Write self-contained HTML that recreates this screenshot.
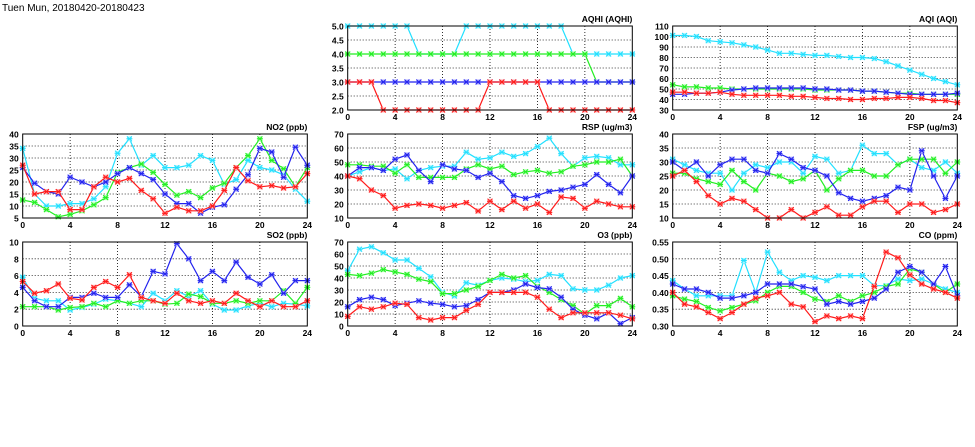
<!DOCTYPE html>
<html><head><meta charset="utf-8"><style>
body{margin:0;background:#fff;}
svg{display:block;font-family:"Liberation Sans",sans-serif;}
</style></head><body>
<svg id="chart" width="975" height="447" viewBox="0 0 975 447">
<text x="2" y="11" font-size="10" fill="#000">Tuen Mun, 20180420-20180423</text>
</svg>
<script>
const hours = [0,1,2,3,4,5,6,7,8,9,10,11,12,13,14,15,16,17,18,19,20,21,22,23,24];
const xTicks = [0,4,8,12,16,20,24];
const seriesColors = ["#22e0ff","#22ee22","#2222ee","#ff1a1a"];
const seriesFill = ["#aaf4ff","#aaffaa","#aaaaff","#ffaaaa"];

const no2Cyan=[34,15,10,10,11,11,13,18,32,38,27,31,26,26,27,31,29,19,21,29,26,25,23,17,12];
const no2Green=[12.5,11.5,8.5,5.5,6.5,8,10.5,13.5,24,26,27.5,24,19,14.5,16,13.5,17.5,19.5,26,31,38,29,25.5,18,26];
const no2Blue=[26,19.5,16,15,22,20,18,20,23.5,26,23.5,21,15,11,11,7,9.5,10.5,17,23,34,32.5,22,34.5,27];
const no2Red=[27,15,16,16,8.5,8.5,18,22,20,21.5,16.5,13,7,9.5,8,8,10,16.5,26,20.5,18,18.5,17.5,18,23.5];
const no2Ticks=[5,10,15,20,25,30,35,40];

const so2Cyan=[5.8,3.3,3,3,1.9,2.2,2.6,3.2,3,2.7,2.3,3.9,3,4.2,3.5,4.2,2.6,1.9,1.9,2.4,2.7,2.3,2.7,2.6,2.4];
const so2Green=[2.3,2.3,2.3,1.9,2.2,2.3,2.7,2.3,3,2.7,3,3,2.6,2.7,3.8,3.5,2.7,2.7,3,2.7,3,3,4.2,2.7,4.6];
const so2Blue=[4.6,3,2.3,2.3,3.4,3.4,3.9,3.4,3.4,4.9,3.5,6.5,6.2,9.8,8,5.4,6.5,5.4,7.6,5.8,5,6.1,3.9,5.4,5.4];
const so2Red=[5.3,3.9,4.2,5,3.3,3.1,4.6,5.3,4.6,6.1,3.4,3,2.7,3.9,3,2.7,3,2.7,3.9,3,2.3,3,2.3,2.3,3];
const so2Ticks=[0,2,4,6,8,10];

const aqhiCyan=[5,5,5,5,5,5,4,4,4,4,5,5,5,5,5,5,5,5,5,4,4,4,4,4,4];
const aqhiGreen=[4,4,4,4,4,4,4,4,4,4,4,4,4,4,4,4,4,4,4,4,4,3,3,3,3];
const aqhiBlue=[3,3,3,3,3,3,3,3,3,3,3,3,3,3,3,3,3,3,3,3,3,3,3,3,3];
const aqhiRed=[3,3,3,2,2,2,2,2,2,2,2,2,3,3,3,3,3,2,2,2,2,2,2,2,2];
const aqhiTicks=[2.0,2.5,3.0,3.5,4.0,4.5,5.0];

const aqiCyan=[101,101,100,96,95,94,92,90,87,84,84,83,82,82,81,80,80,79,76,72,68,64,60,57,54];
const aqiGreen=[54,52,52,51,51,50,50,50,50,50,50,50,49,49,49,49,48,48,47,46,46,45,45,45,45];
const aqiBlue=[45,45,46,46,47,49,50,51,51,51,51,51,50,50,49,49,48,48,47,46,45,45,45,45,46];
const aqiRed=[47,47,46,46,47,45,44,44,44,44,43,43,42,41,41,40,40,41,41,42,42,41,39,39,37];
const aqiTicks=[30,40,50,60,70,80,90,100,110];

const rspCyan=[40,43,46,44,45,38,44,46,47,47,57,52,53,57,54,56,61,67,56,47,53,54,53,48,48];
const rspGreen=[48,48,47,47,42,48,39,39,39,39,45,48,45,47,41,43,44,42,43,47,48,50,50,52,40];
const rspBlue=[40,46,46,44,52,55,44,36,48,45,44,39,42,36,26,24,26,29,30,32,34,41,34,28,40];
const rspRed=[40,38,30,26,17,19,20,19,17,19,21,15,22,16,22,17,20,14,25,24,17,22,20,18,18];
const rspTicks=[10,20,30,40,50,60,70];

const fspCyan=[31,29,27,26,26,20,26,29,28,30,30,26,32,31,26,27,36,33,33,29,31,28,27,30,26];
const fspGreen=[26,26,24,23,22,27,23,20,26,25,23,24,27,20,24,27,27,25,25,29,31,31,31,26,30];
const fspBlue=[30,27,30,25,29,31,31,27,26,33,31,28,27,25,19,17,16,17,18,21,20,34,25,17,25];
const fspRed=[25,27,23,18,15,17,16,13,10,10,13,10,12,14,11,11,14,16,16,12,15,15,12,13,15];
const fspTicks=[10,15,20,25,30,35,40];

const o3Cyan=[46,64,66,61,55,55,48,41,28,25,36,34,38,40,39,37,38,43,42,31,30,30,34,40,42];
const o3Green=[43,42,44,47,45,43,39,37,27,27,30,33,38,43,40,42,33,28,22,17,10,17,17,23,16];
const o3Blue=[16,22,24,22,17,19,21,19,18,16,17,22,28,28,30,35,32,31,24,14,9,6,11,2,7];
const o3Red=[8,16,14,16,19,18,7,5,7,7,13,18,28,28,28,28,24,14,7,11,11,11,11,9,6];
const o3Ticks=[0,10,20,30,40,50,60,70];

const coCyan=[0.435,0.41,0.39,0.39,0.39,0.39,0.495,0.40,0.52,0.46,0.435,0.45,0.445,0.435,0.45,0.45,0.45,0.42,0.42,0.44,0.435,0.44,0.425,0.41,0.40];
const coGreen=[0.39,0.38,0.373,0.355,0.345,0.355,0.365,0.375,0.40,0.418,0.418,0.40,0.38,0.373,0.39,0.373,0.39,0.40,0.418,0.425,0.47,0.46,0.425,0.40,0.425];
const coBlue=[0.425,0.41,0.41,0.40,0.383,0.383,0.39,0.40,0.425,0.425,0.425,0.417,0.41,0.365,0.373,0.365,0.373,0.383,0.41,0.46,0.477,0.46,0.425,0.477,0.39];
const coRed=[0.40,0.365,0.357,0.34,0.322,0.34,0.365,0.383,0.39,0.40,0.365,0.357,0.313,0.33,0.322,0.33,0.322,0.418,0.52,0.503,0.452,0.425,0.41,0.40,0.383];
const coTicks=[0.30,0.35,0.40,0.45,0.50,0.55];

const NS="http://www.w3.org/2000/svg";
const svg=document.getElementById('chart');
function mk(tag,attrs,parent){const e=document.createElementNS(NS,tag);for(const k in attrs)e.setAttribute(k,attrs[k]);parent.appendChild(e);return e;}

function panel(key,title,left,top,ticks,dec,series){
  const W=284.6,H=84;
  const ymin=ticks[0],ymax=ticks[ticks.length-1];
  const xs=h=>left+h/24*W;
  const ys=v=>top+H-(v-ymin)/(ymax-ymin)*H;
  const g=mk('g',{},svg);
  
  
  ticks.forEach((t,i)=>{
    if(i>0&&i<ticks.length-1){const l=mk('line',{x1:left,x2:left+W,y1:ys(t),y2:ys(t),stroke:'#000','stroke-width':0.8,'stroke-dasharray':'1,2'},g);
    
    }
    const tx=mk('text',{x:left-4,y:ys(t)+3.5,'font-size':8.5,'font-weight':'bold','text-anchor':'end'},g);
    tx.textContent=t.toFixed(dec);
    
    
  });
  xTicks.forEach((t,i)=>{
    if(i>0&&i<xTicks.length-1){const l=mk('line',{x1:xs(t),x2:xs(t),y1:top,y2:top+H,stroke:'#000','stroke-width':0.8,'stroke-dasharray':'1,2'},g);
    
    }
    const tx=mk('text',{x:xs(t),y:top+H+10,'font-size':8.5,'font-weight':'bold','text-anchor':'middle'},g);
    tx.textContent=t;
    
    
  });
  series.forEach((vals,si)=>{
    const s=mk('g',{},g);
    
    
    const pts=vals.map((v,i)=>xs(hours[i]).toFixed(1)+','+ys(v).toFixed(1)).join(' ');
    const pl=mk('polyline',{points:pts,fill:'none',stroke:seriesColors[si],'stroke-width':1.2},s);
    
    
    vals.forEach((v,i)=>{
      const cx=xs(hours[i]),cy=ys(v);
      const r=mk('rect',{x:cx-2.5,y:cy-2.5,width:5,height:5,fill:seriesFill[si]},s);
      
      
      mk('path',{d:`M${cx-2.5},${cy-2.5}L${cx+2.5},${cy+2.5}M${cx-2.5},${cy+2.5}L${cx+2.5},${cy-2.5}M${cx-3},${cy}L${cx+3},${cy}`,stroke:seriesColors[si],'stroke-width':1},s);
    });
  });
  const fr=mk('rect',{x:left,y:top,width:W,height:H,fill:'none',stroke:'#000','stroke-width':1},g);
  
  
  const tt=mk('text',{x:left+W,y:top-4,'font-size':8.5,'font-weight':'bold','text-anchor':'end'},g);
  tt.textContent=title;
  
  
}
const L=[22.7,347.7,672.7], T=[26,134,242];
panel('aqhi','AQHI (AQHI)',L[1],T[0],aqhiTicks,1,[aqhiCyan,aqhiGreen,aqhiBlue,aqhiRed]);
panel('aqi','AQI (AQI)',L[2],T[0],aqiTicks,0,[aqiCyan,aqiGreen,aqiBlue,aqiRed]);
panel('no2','NO2 (ppb)',L[0],T[1],no2Ticks,0,[no2Cyan,no2Green,no2Blue,no2Red]);
panel('rsp','RSP (ug/m3)',L[1],T[1],rspTicks,0,[rspCyan,rspGreen,rspBlue,rspRed]);
panel('fsp','FSP (ug/m3)',L[2],T[1],fspTicks,0,[fspCyan,fspGreen,fspBlue,fspRed]);
panel('so2','SO2 (ppb)',L[0],T[2],so2Ticks,0,[so2Cyan,so2Green,so2Blue,so2Red]);
panel('o3','O3 (ppb)',L[1],T[2],o3Ticks,0,[o3Cyan,o3Green,o3Blue,o3Red]);
panel('co','CO (ppm)',L[2],T[2],coTicks,2,[coCyan,coGreen,coBlue,coRed]);
</script>
</body></html>
